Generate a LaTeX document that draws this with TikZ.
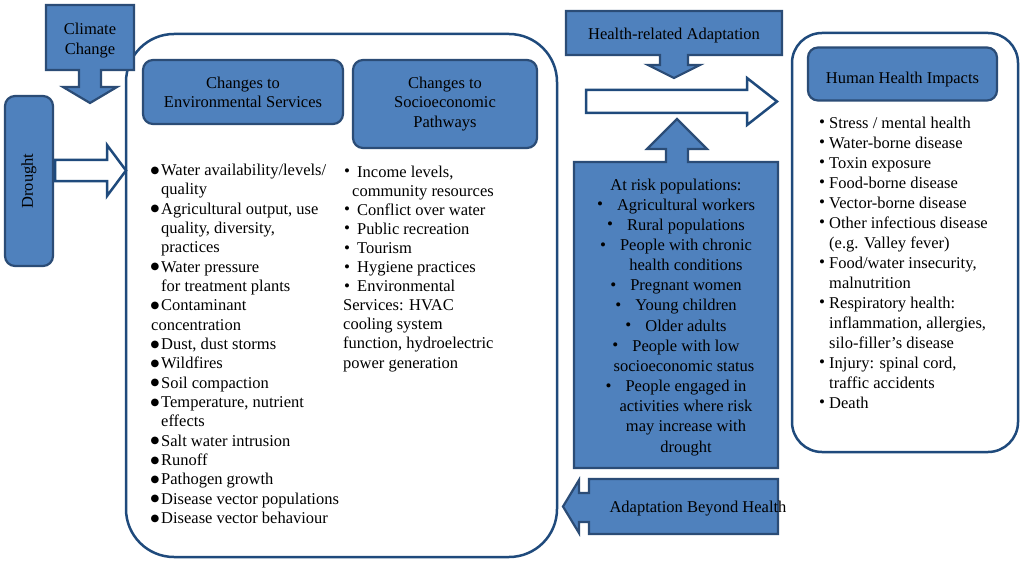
\documentclass[tikz,border=0pt]{standalone}
\usepackage{fontspec}
\setmainfont{Liberation Serif}
\newfontfamily\dejavu{DejaVu Sans}
\definecolor{bfill}{HTML}{4F81BD}
\definecolor{bdraw}{HTML}{2B4C76}
\definecolor{fdraw}{HTML}{1F4A7C}
\newcommand\bigb{\raisebox{2.2pt}{\dejavu\fontsize{10}{10}\selectfont ●}}
\newcommand\lbul{\makebox[10pt][l]{\hspace*{-0.5pt}\bigb}}
\newcommand\lind{\hspace*{10pt}}
\newcommand\smb{\raisebox{0.4pt}{\fontsize{17}{17}\selectfont\textbullet}}
\newcommand\sbul{\hspace*{1pt}\makebox[13pt][l]{\smb}}
\newcommand\rbul{\makebox[9pt][l]{\hspace*{-1pt}\smb}}
\newcommand\rind{\hspace*{9pt}}
\newcommand\abul{\smb\hspace{14pt}}
\begin{document}
\begin{tikzpicture}[x=1pt,y=-1pt,
  font=\fontsize{16.5}{19.3}\selectfont,
  blueshape/.style={fill=bfill, draw=bdraw, line width=2.2pt, line join=miter},
  bluebox/.style={blueshape, rounded corners=10pt},
  frame/.style={draw=fdraw, line width=2.5pt, fill=white},
  hollow/.style={draw=fdraw, line width=2.5pt, fill=white, line join=miter},
  lbl/.style={inner sep=0pt, align=center, text=black},
  listtext/.style={inner sep=0pt, align=left, anchor=base west, text=black}]
\useasboundingbox[fill=white] (0,0) rectangle (1024,564);

% frames
\node[frame, rounded corners=48pt, minimum width=431pt, minimum height=523pt] (envframe) at (341.5,295.5) {};
\node[frame, rounded corners=30pt, minimum width=226pt, minimum height=419pt] (hhframe) at (905,242.5) {};

% Climate change callout
\draw[blueshape] (46,5) -- (134,5) -- (134,70) -- (101,70) -- (101,87) -- (117,87) -- (90,103) -- (63,87) -- (79,87) -- (79,70) -- (46,70) -- cycle;
\node[lbl, font=\fontsize{16.5}{20}\selectfont] (cc) at (90,41) {Climate\\Change};

% Drought
\node[bluebox, minimum width=170pt, minimum height=48pt, rotate=90, text=black] (drought) at (29,181) {Drought};
\draw[hollow] (55,160) -- (107,160) -- (107,145) -- (126,170.5) -- (107,196) -- (107,181) -- (55,181) -- cycle;

% titles inside env frame
\node[bluebox, minimum width=200pt, minimum height=64pt, align=center, text=black, font=\fontsize{16.5}{19}\selectfont] (envt) at (243,92) {Changes to\\Environmental Services};
\node[bluebox, minimum width=184pt, minimum height=88pt, align=center, text=black, font=\fontsize{16.5}{19.5}\selectfont] (soct) at (445,104) {Changes to\\Socioeconomic\\Pathways};

% left list (anchor = baseline of last line)
\node[listtext, font=\fontsize{16.5}{19.33}\selectfont] (envlist) at (151,523.4) {%
\lbul Water availability/levels/\\
\lind quality\\
\lbul Agricultural output, use\\
\lind quality, diversity,\\
\lind practices\\
\lbul Water pressure\\
\lind for treatment plants\\
\lbul Contaminant\\
concentration\\
\lbul Dust, dust storms\\
\lbul Wildfires\\
\lbul Soil compaction\\
\lbul Temperature, nutrient\\
\lind effects\\
\lbul Salt water intrusion\\
\lbul Runoff\\
\lbul Pathogen growth\\
\lbul Disease vector populations\\
\lbul Disease vector behaviour};

% socio list
\node[listtext, font=\fontsize{16.5}{19.1}\selectfont] (soclist) at (343,368) {%
\sbul Income levels,\\
\hspace*{9pt}community resources\\
\sbul Conflict over water\\
\sbul Public recreation\\
\sbul Tourism\\
\sbul Hygiene practices\\
\sbul Environmental\\
Services: HVAC\\
cooling system\\
function, hydroelectric\\
power generation};

% Health-related adaptation callout
\draw[blueshape] (566,11) -- (782,11) -- (782,55) -- (688,55) -- (688,65) -- (700,65) -- (674,78) -- (648,65) -- (660,65) -- (660,55) -- (566,55) -- cycle;
\node[lbl] (hra) at (674,35.5) {Health-related Adaptation};

% middle hollow arrow
\draw[hollow] (586,90) -- (747,90) -- (747,78) -- (777,101.5) -- (747,125) -- (747,113) -- (586,113) -- cycle;

% At risk callout
\draw[blueshape] (574,468) -- (574,162) -- (666,162) -- (666,149) -- (647,149) -- (677,119) -- (707,149) -- (688,149) -- (688,162) -- (778,162) -- (778,468) -- cycle;
\node[lbl, anchor=base, font=\fontsize{16.5}{20.15}\selectfont] (risk) at (676,452) {%
At risk populations:\\
\abul Agricultural workers\\
\abul Rural populations\\
\abul People with chronic\\
\hspace*{20pt}health conditions\\
\abul Pregnant women\\
\abul Young children\\
\abul Older adults\\
\abul People with low\\
\hspace*{16pt}socioeconomic status\\
\abul People engaged in\\
\hspace*{20pt}activities where risk\\
\hspace*{20pt}may increase with\\
\hspace*{20pt}drought};

% Adaptation beyond health
\draw[blueshape] (778,479) -- (778,534) -- (589,534) -- (589,522) -- (579,522) -- (579,533) -- (563,506.5) -- (579,480) -- (579,493) -- (589,493) -- (589,479) -- cycle;
\node[lbl] (abh) at (698,509) {Adaptation Beyond Health};

% Human health impacts
\node[bluebox, minimum width=189pt, minimum height=53pt] (hht) at (902.5,74) {};
\node[lbl] (hhttext) at (902.5,80) {Human Health Impacts};
\node[listtext, font=\fontsize{16.5}{20}\selectfont] (hhlist) at (820,408) {%
\rbul Stress / mental health\\
\rbul Water-borne disease\\
\rbul Toxin exposure\\
\rbul Food-borne disease\\
\rbul Vector-borne disease\\
\rbul Other infectious disease\\
\rind (e.g. Valley fever)\\
\rbul Food/water insecurity,\\
\rind malnutrition\\
\rbul Respiratory health:\\
\rind inflammation, allergies,\\
\rind silo-filler’s disease\\
\rbul Injury: spinal cord,\\
\rind traffic accidents\\
\rbul Death};
\end{tikzpicture}
\end{document}
